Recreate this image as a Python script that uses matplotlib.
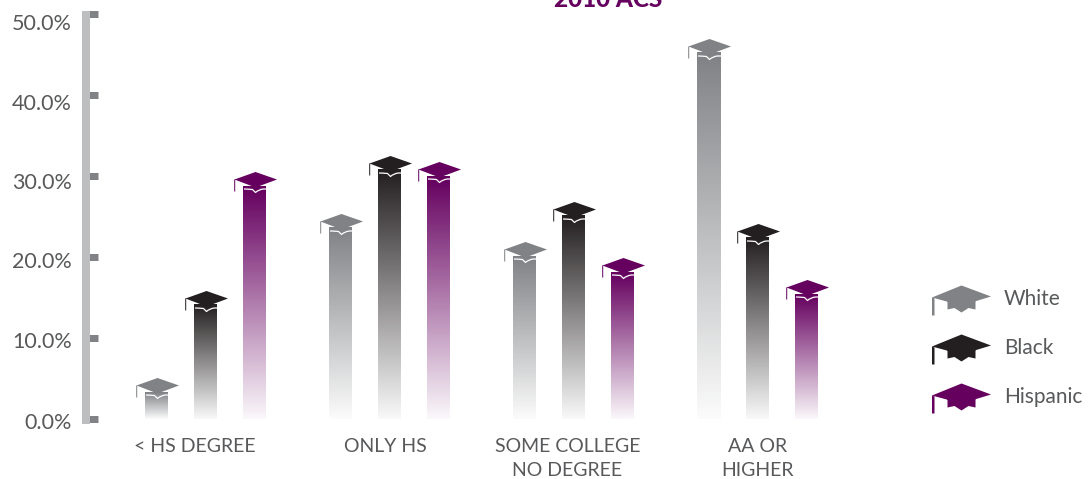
import numpy as np
import matplotlib
matplotlib.use('Agg')
import matplotlib.pyplot as plt
from matplotlib.colors import LinearSegmentedColormap
from matplotlib.lines import Line2D
from matplotlib.path import Path
from matplotlib.transforms import ScaledTranslation

plt.rcParams['font.family'] = ['Lato', 'DejaVu Sans']

groups = ['< HS DEGREE', 'ONLY HS', 'SOME COLLEGE\nNO DEGREE', 'AA OR\nHIGHER']
series = ['White', 'Black', 'Hispanic']
white = [3.3, 23.6, 20.1, 45.2]
black = [14.1, 30.75, 25.1, 22.35]
hispanic = [28.75, 30.0, 18.1, 15.4]
values = [white, black, hispanic]
colors = ['#808285', '#231f20', '#65005f']
yticks = [0, 10, 20, 30, 40, 50]

W, H = 1088, 479
fig = plt.figure(figsize=(W / 100, H / 100), dpi=100)
ax = fig.add_axes([90 / W, (H - 419) / H, (W - 90) / W, 405 / H])

# x units are groups: one group is 184 px wide, first group centre at 205.5 px
px = 1 / 184
bar_w = 23 * px
step = 49 * px


def closed(pts):
    return Path(pts + [pts[0]], [Path.MOVETO] + [Path.LINETO] * (len(pts) - 1) + [Path.CLOSEPOLY])


# marker shapes in pixels around the top centre of a bar
small_cap = Path.make_compound_path(
    closed([(0, 14.5), (21.5, 7), (0, -1), (-21, 7)]),
    closed([(-21.3, 7), (-20.3, 7), (-20.3, -5), (-21.3, -5)]),
    Path([(22, 0)], [Path.MOVETO]),
)
scallop = Path(
    [(22, 0), (-11.5, -2.5), (-8, -2.5), (-3, -3), (0, -6), (3, -3), (8, -2.5), (11.5, -2.5)],
    [Path.MOVETO, Path.MOVETO, Path.CURVE3, Path.CURVE3, Path.LINETO, Path.CURVE3, Path.CURVE3, Path.LINETO],
)
small_ms = 2 * 22 * 0.72

big_cap = Path.make_compound_path(
    closed([(0, 13), (29.5, 2), (0, -7), (-29.5, 1)]),
    closed([(-14, -2), (14, -2), (14, -11), (7, -9.5), (0, -14), (-7, -9.5), (-14, -11)]),
    closed([(-29.5, 1), (-27, 0), (-27, -17), (-29.5, -17)]),
)
big_ms = 2 * 29.5 * 0.72

for i, (vals, color) in enumerate(zip(values, colors)):
    cmap = LinearSegmentedColormap.from_list('fade', [color, '#ffffff'])
    xs = np.arange(len(groups)) + (i - 1) * step
    for x, v in zip(xs, vals):
        ax.imshow(np.linspace(0, 0.97, 128).reshape(-1, 1), cmap=cmap, vmin=0, vmax=1,
                  extent=(x - bar_w / 2, x + bar_w / 2, 0, v), origin='upper',
                  aspect='auto', zorder=2, interpolation='bilinear')
    ax.plot(xs, vals, ls='none', marker=small_cap, ms=small_ms, mfc=color, mew=0,
            zorder=3, clip_on=False)
    ax.plot(xs, vals, ls='none', marker=scallop, ms=small_ms, mfc='none', mec='white',
            mew=0.9, zorder=4, clip_on=False)

ax.set_xlim((90 - 205.5) * px, (W - 205.5) * px)
ax.set_ylim(0, 50)

for name in ['top', 'right', 'bottom']:
    ax.spines[name].set_visible(False)
ax.spines['left'].set_position(('outward', 4 * 0.72))
ax.spines['left'].set_linewidth(8 * 0.72)
ax.spines['left'].set_color('#bcbec0')
ax.spines['left'].set_capstyle('butt')
ax.spines['left'].set_bounds(-0.6, 50.4)
ax.spines['left'].set_zorder(5)

ax.set_yticks(yticks)
ax.set_yticklabels([f'{t:.1f}%' for t in yticks])
ax.tick_params(axis='y', direction='in', length=12 * 0.72, width=7 * 0.72, color='#808285',
               pad=10, labelsize=15.5, labelcolor='#58595b')
# the labels sit a little under their ticks, more so towards the top
for label, drop in zip(ax.get_yticklabels(), [2, 2, 3, 5, 7, 8]):
    label.set_transform(label.get_transform() + ScaledTranslation(0, -drop / 100, fig.dpi_scale_trans))

ax.set_xticks(np.arange(len(groups)) + np.array([-11, -4.5, -6, 0]) * px)
ax.set_xticklabels(groups, linespacing=1.5)
ax.tick_params(axis='x', length=0, pad=14, labelsize=14, labelcolor='#58595b')

handles = [Line2D([], [], ls='none', marker=big_cap, ms=big_ms, mfc=c, mew=0) for c in colors]
ax.legend(handles, series, loc='center left', bbox_to_anchor=(929 / W, (H - 348) / H),
          bbox_transform=fig.transFigure, frameon=False, fontsize=15, labelcolor='#58595b',
          labelspacing=1.4, handlelength=3.1, handletextpad=0.5, numpoints=1,
          borderpad=0, borderaxespad=0)

fig.text(608 / W, (H - 7) / H, '2010 ACS', color='#65005f', fontsize=17.5, fontweight='black',
         ha='center', va='baseline')

fig.savefig('out.png', dpi=100)
